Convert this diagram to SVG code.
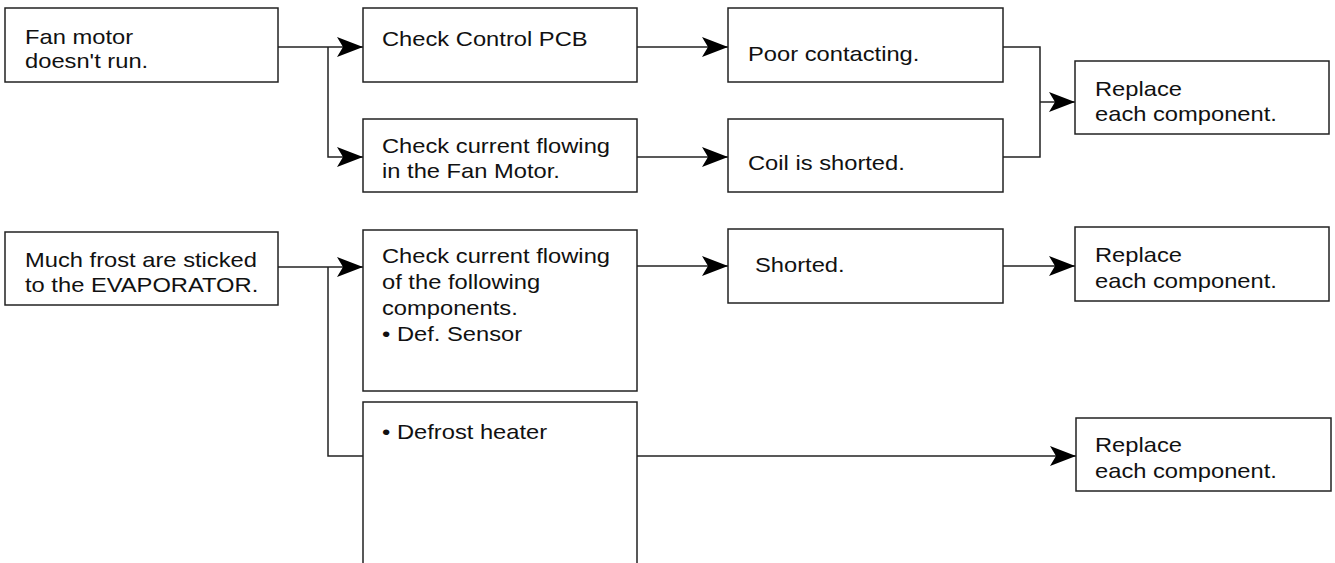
<svg xmlns="http://www.w3.org/2000/svg" width="1335" height="563" viewBox="0 0 1335 563">
<style>
.box{fill:#fff;stroke:#222;stroke-width:1.5}
.ln{fill:none;stroke:#222;stroke-width:1.5}
.t{font-family:"Liberation Sans",Arial,sans-serif;font-size:21px;fill:#111}
</style>
<defs>
<marker id="ah" viewBox="0 0 26 20" refX="26" refY="10" markerWidth="26" markerHeight="20" markerUnits="userSpaceOnUse" orient="auto">
<path d="M0,0 L26,10 L0,20 L6,10 Z" fill="#000"/>
</marker>
</defs>
<rect width="1335" height="563" fill="#fff"/>
<g id="connectors">
<path class="ln" d="M278,47 H363" marker-end="url(#ah)"/>
<path class="ln" d="M328,47 V157 H363" marker-end="url(#ah)"/>
<path class="ln" d="M637,47 H728" marker-end="url(#ah)"/>
<path class="ln" d="M637,157 H728" marker-end="url(#ah)"/>
<path class="ln" d="M1003,47 H1040 V157 H1003"/>
<path class="ln" d="M1040,102 H1075" marker-end="url(#ah)"/>
<path class="ln" d="M278,267 H363" marker-end="url(#ah)"/>
<path class="ln" d="M328,267 V456 H363"/>
<path class="ln" d="M637,266 H728" marker-end="url(#ah)"/>
<path class="ln" d="M1003,266 H1075" marker-end="url(#ah)"/>
<path class="ln" d="M637,456 H1076" marker-end="url(#ah)"/>
</g>
<g id="n1"><rect class="box" x="5" y="8" width="273" height="74"/>
<text class="t" transform="translate(25,44) scale(1.13,1)"><tspan x="0" y="0">Fan motor</tspan><tspan x="0" y="24">doesn't run.</tspan></text></g>
<g id="n2"><rect class="box" x="363" y="8" width="274" height="74"/>
<text class="t" transform="translate(382,46) scale(1.13,1)">Check Control PCB</text></g>
<g id="n3"><rect class="box" x="363" y="119" width="274" height="73"/>
<text class="t" transform="translate(382,153) scale(1.13,1)"><tspan x="0" y="0">Check current flowing</tspan><tspan x="0" y="25">in the Fan Motor.</tspan></text></g>
<g id="n4"><rect class="box" x="728" y="8" width="275" height="74"/>
<text class="t" transform="translate(748,61) scale(1.13,1)">Poor contacting.</text></g>
<g id="n5"><rect class="box" x="728" y="119" width="275" height="73"/>
<text class="t" transform="translate(748,170) scale(1.13,1)">Coil is shorted.</text></g>
<g id="n6"><rect class="box" x="1075" y="61" width="254" height="73"/>
<text class="t" transform="translate(1095,96) scale(1.13,1)"><tspan x="0" y="0">Replace</tspan><tspan x="0" y="25">each component.</tspan></text></g>
<g id="n7"><rect class="box" x="5" y="232" width="273" height="73"/>
<text class="t" transform="translate(25,267) scale(1.13,1)"><tspan x="0" y="0">Much frost are sticked</tspan><tspan x="0" y="25">to the EVAPORATOR.</tspan></text></g>
<g id="n8"><rect class="box" x="363" y="230" width="274" height="161"/>
<text class="t" transform="translate(382,263) scale(1.13,1)"><tspan x="0" y="0">Check current flowing</tspan><tspan x="0" y="26">of the following</tspan><tspan x="0" y="52">components.</tspan><tspan x="0" y="78">• Def. Sensor</tspan></text></g>
<g id="n9"><path class="box" d="M363,570 V402 H637 V570"/>
<text class="t" transform="translate(382,439) scale(1.13,1)">• Defrost heater</text></g>
<g id="n10"><rect class="box" x="728" y="229" width="275" height="74"/>
<text class="t" transform="translate(755,272) scale(1.13,1)">Shorted.</text></g>
<g id="n11"><rect class="box" x="1075" y="227" width="254" height="74"/>
<text class="t" transform="translate(1095,262) scale(1.13,1)"><tspan x="0" y="0">Replace</tspan><tspan x="0" y="26">each component.</tspan></text></g>
<g id="n12"><rect class="box" x="1076" y="418" width="255" height="73"/>
<text class="t" transform="translate(1095,452) scale(1.13,1)"><tspan x="0" y="0">Replace</tspan><tspan x="0" y="26">each component.</tspan></text></g>
</svg>
